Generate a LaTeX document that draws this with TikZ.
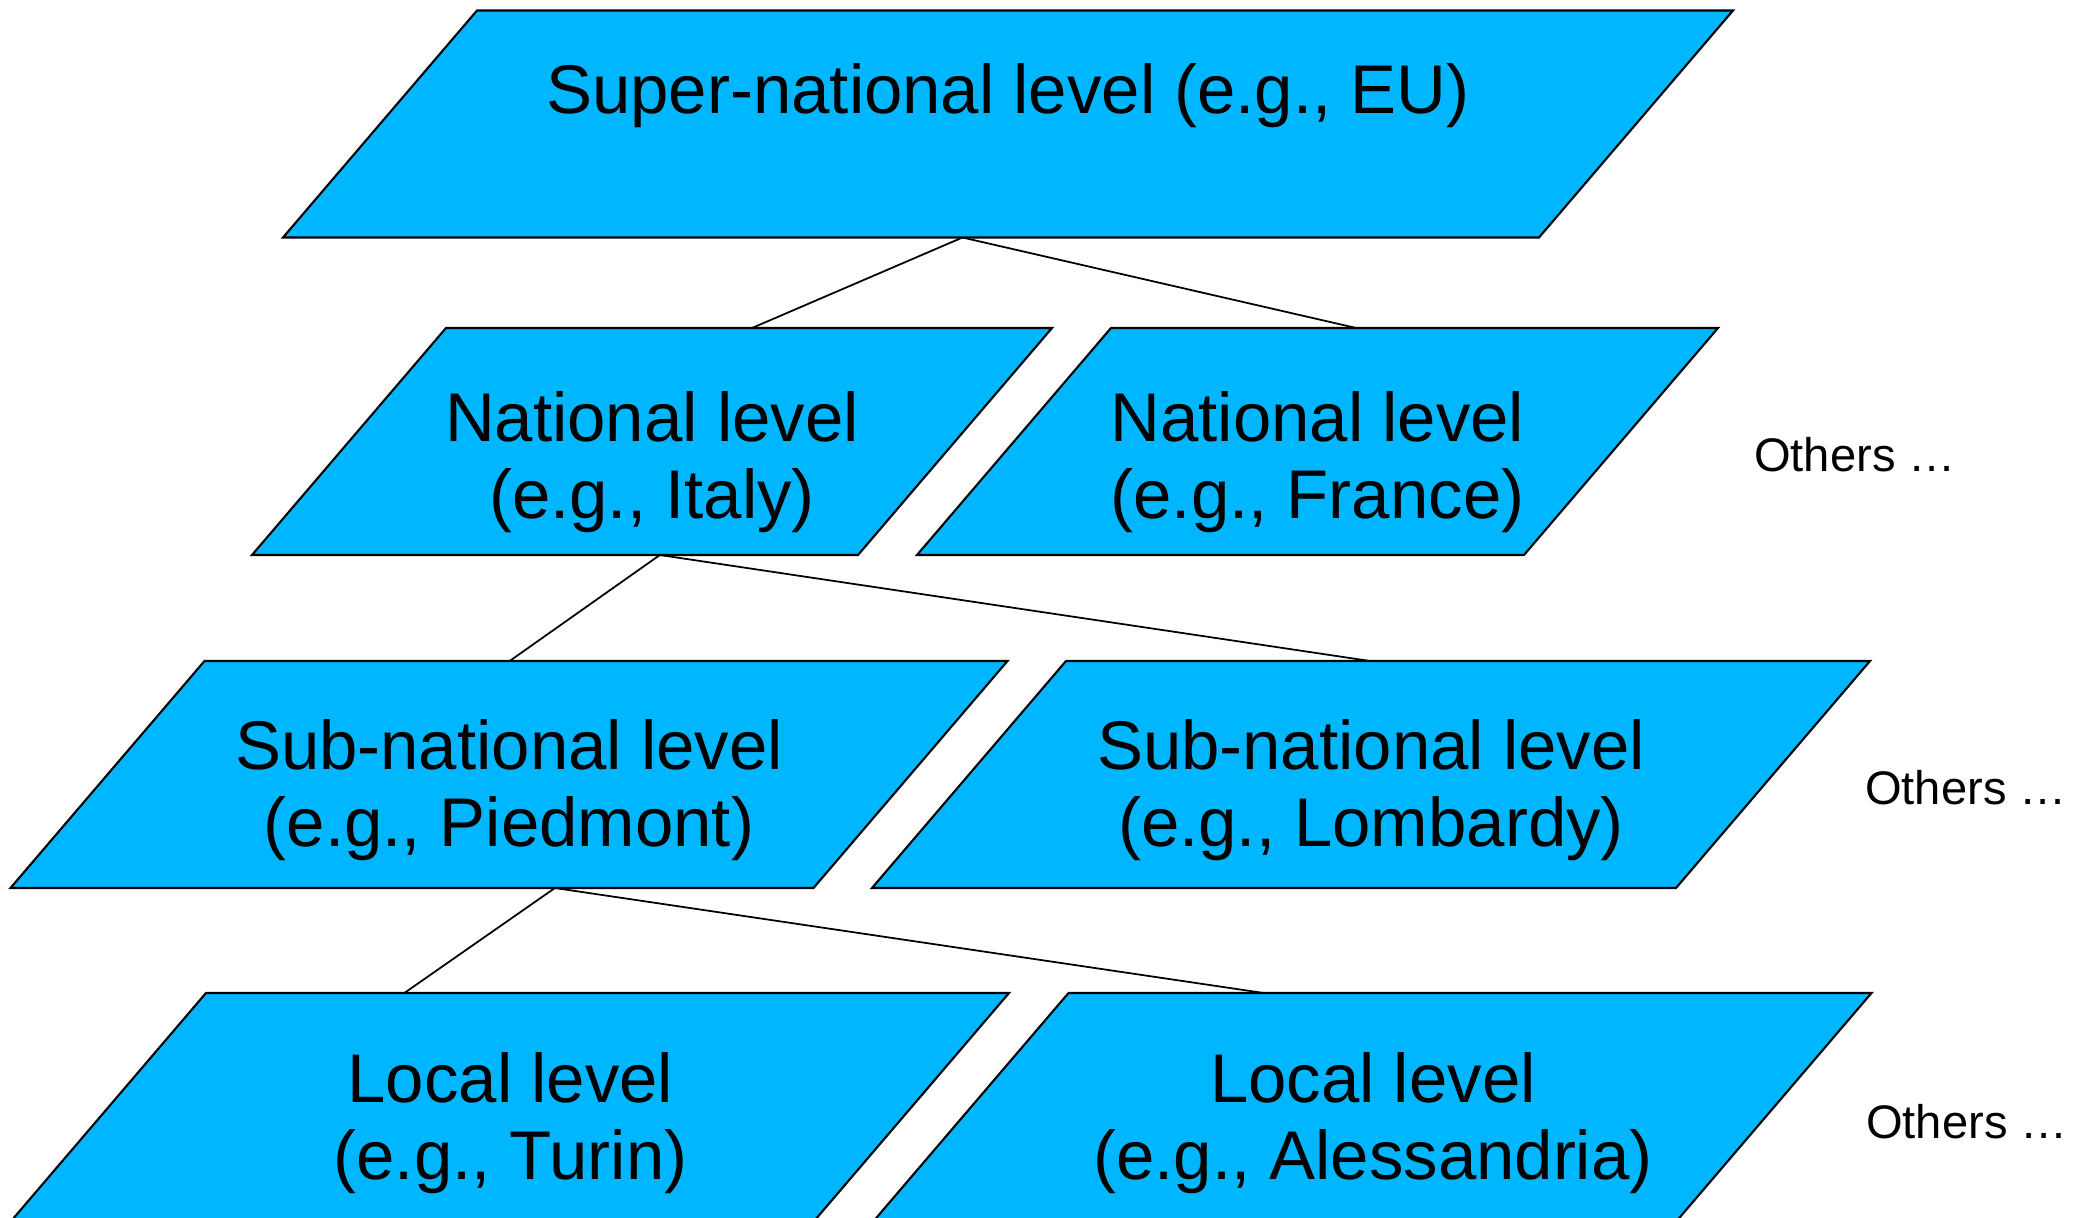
\documentclass[tikz,border=0pt]{standalone}
\usepackage{fontspec}
\setmainfont{Liberation Sans}
\usetikzlibrary{calc}
\definecolor{levelblue}{RGB}{0,183,255}

\begin{document}
\begin{tikzpicture}[x=0.01cm, y=-0.01cm,
  level box/.style={draw, fill=levelblue, line width=0.6pt},
  level text/.style={inner sep=0pt, align=center, font=\fontsize{19.6}{21.9}\selectfont}]
        \tikzstyle{every node}=[font=\fontsize{13.4}{16}\selectfont]
        \useasboundingbox (0,0) rectangle (2074,1218);

          % one slanted box per level: name / centre x / centre y / edge length / text y / text
          \foreach \n/\x/\y/\l/\ty/\t in {
              1/1008/124/1256/96/{Super-national level (e.g., EU)},
              2/652/441.5/606/462/{National level\\ (e.g., Italy)},
              3/1317.5/441.5/607/462/{National level\\ (e.g., France)},
              4/509/774.5/803/790/{Sub-national level\\ (e.g., Piedmont)},
              5/1371/774.5/804/790/{Sub-national level\\ (e.g., Lombardy)},
              6/510.5/1106.5/803/1123/{Local level\\ (e.g., Turin)},
              7/1373/1106.5/803/1123/{Local level\\ (e.g., Alessandria)}} {
            \path[level box] (\x-\l/2-97,\y+113.5) coordinate (\n-bl)
              -- (\x-\l/2+97,\y-113.5) coordinate (\n-tl)
              -- (\x+\l/2+97,\y-113.5) coordinate (\n-tr)
              -- (\x+\l/2-97,\y+113.5) coordinate (\n-br) -- cycle;
            \node[level text] (\n) at (\x,\ty) {\t};
          }

          \node (8) at (1855,455) {Others …};
          \node (9) at (1966,788) {Others …};
          \node (10) at (1967,1122) {Others …};

          % where the lines meet the boxes
          \coordinate (1s) at ($(1-bl)!0.541!(1-br)$);
          \coordinate (2n) at ($(2-tl)!0.505!(2-tr)$);
          \coordinate (3n) at ($(3-tl)!0.404!(3-tr)$);
          \coordinate (2s) at ($(2-bl)!0.673!(2-br)$);
          \coordinate (4n) at ($(4-tl)!0.38!(4-tr)$);
          \coordinate (5n) at ($(5-tl)!0.378!(5-tr)$);
          \coordinate (4s) at ($(4-bl)!0.678!(4-br)$);
          \coordinate (6n) at ($(6-tl)!0.247!(6-tr)$);
          \coordinate (7n) at ($(7-tl)!0.243!(7-tr)$);

          \path[line width=0.5pt]
            (1s) edge (2n)
                 edge (3n)
            (2s) edge (4n)
                 edge (5n)
            (4s) edge (6n)
                 edge (7n);

        \end{tikzpicture}
\end{document}
